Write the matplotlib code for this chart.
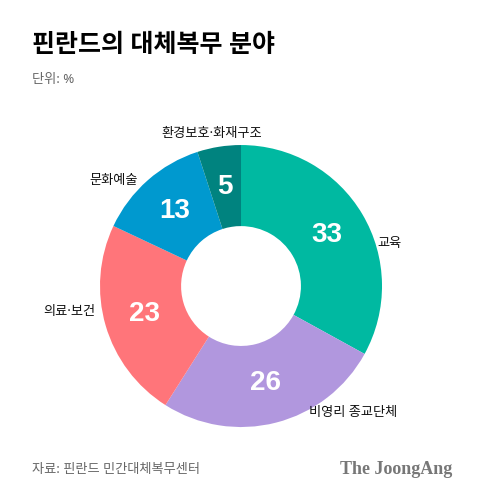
import matplotlib.pyplot as plt

plt.rcParams['font.family'] = ['Noto Sans', 'Noto Sans CJK KR', 'DejaVu Sans']

# 데이터
categories = ['교육', '비영리 종교단체', '의료·보건', '문화예술', '환경보호·화재구조']
values = [33, 26, 23, 13, 5]
colors = ['#00b9a1', '#b197de', '#ff757a', '#0099cf', '#00837f']

# 바깥 라벨 위치 (반지름 1 기준)
label_pos = [(0.97, 0.30, 'left'), (0.48, -0.90, 'left'), (-1.03, -0.18, 'right'),
             (-0.73, 0.75, 'right'), (-0.21, 1.085, 'center')]

fig = plt.figure(figsize=(4.8, 4.99), dpi=100)
ax = fig.add_axes([0.0174, 0.0736, 0.9694, 0.7064])

wedges, _, autotexts = ax.pie(values, colors=colors, startangle=90, counterclock=False,
                              radius=1.0, wedgeprops=dict(width=0.575, linewidth=0),
                              autopct=lambda p: f'{p:.0f}', pctdistance=0.71,
                              textprops=dict(color='white', fontsize=20, weight='bold',
                                             family=['Liberation Sans']))
ax.set_xlim(-1.65, 1.65)
ax.set_ylim(-1.25, 1.25)
ax.set_aspect('auto')
ax.axis('off')

for cat, (x, y, ha) in zip(categories, label_pos):
    ax.text(x, y, cat, ha=ha, va='center', fontsize=9.5, color='#111111')

fig.text(32 / 480, 1 - 45 / 499, '핀란드의 대체복무 분야', fontsize=18, weight='heavy',
         color='#000000', va='center', ha='left')
fig.text(32 / 480, 1 - 80 / 499, '단위: %', fontsize=9.5, color='#666666',
         va='center', ha='left')
fig.text(32 / 480, 1 - 470 / 499, '자료: 핀란드 민간대체복무센터', fontsize=9.5,
         color='#666666', va='center', ha='left')
fig.text(452 / 480, 1 - 470 / 499, 'The JoongAng', fontsize=13, weight='bold',
         family=['Liberation Serif'], color='#777777', va='center', ha='right')

plt.savefig('out.png', dpi=100)
